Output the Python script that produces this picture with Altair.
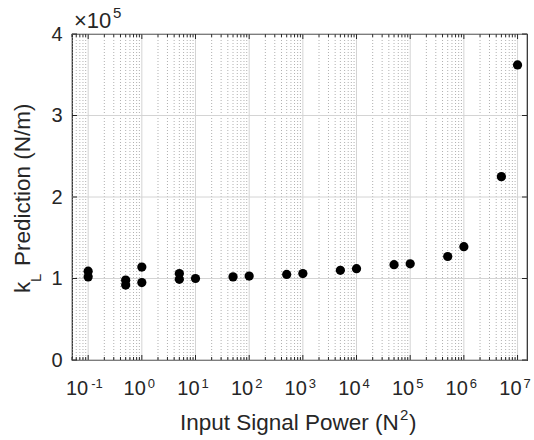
import altair as alt
import pandas as pd

# ---- data (k_L in units of 1e5 N/m) ----
power = [0.1, 0.1, 0.5, 0.5, 1, 1, 5, 5, 10, 50, 100, 500, 1000, 5000,
         1e4, 5e4, 1e5, 5e5, 1e6, 5e6, 1e7]
kL = [1.09, 1.02, 0.98, 0.92, 1.14, 0.95, 1.06, 0.99, 1.00, 1.02, 1.03,
      1.05, 1.06, 1.10, 1.12, 1.17, 1.18, 1.27, 1.39, 2.25, 3.62]

decade_exps = [-1, 0, 1, 2, 3, 4, 5, 6, 7]
y_ticks = [0, 1, 2, 3, 4]
x_domain = [0.05, 1.5e7]

W, H = 455, 326
FONT = "Liberation Sans"
TXT = "#262626"

pts = pd.DataFrame({"p": power, "k": kL})
dec = pd.DataFrame({"v": [10.0 ** e for e in decade_exps],
                    "e": [str(e) for e in decade_exps]})
minor_vals = [m * 10.0 ** k for k in range(-2, 8) for m in range(2, 10)
              if x_domain[0] <= m * 10.0 ** k <= x_domain[1]]
minor = pd.DataFrame({"v": minor_vals})
yt = pd.DataFrame({"y": y_ticks})

xs = alt.Scale(type="log", domain=x_domain, nice=False)
ys = alt.Scale(domain=[0, 4], nice=False)
yaxis = alt.Axis(values=y_ticks, title=None, grid=False, ticks=False,
                 domain=False, labelFont=FONT, labelFontSize=20,
                 labelColor=TXT, labelPadding=10, format="d")

X = alt.X("v:Q", scale=xs, axis=None)
Yt = alt.Y("y:Q", scale=ys, axis=yaxis)

minor_grid = alt.Chart(minor).mark_rule(
    color="#b0b0b0", strokeDash=[1, 2], strokeWidth=1
).encode(x=X, y=alt.value(0), y2=alt.value(H))

major_grid = alt.Chart(dec).mark_rule(color="#d4d4d4", strokeWidth=1).encode(
    x=X, y=alt.value(0), y2=alt.value(H))

ygrid = alt.Chart(yt).mark_rule(color="#d4d4d4", strokeWidth=1).encode(
    y=Yt, x=alt.value(0), x2=alt.value(W))

# inward ticks
bt_major = alt.Chart(dec).mark_rule(color=TXT).encode(x=X, y=alt.value(H), y2=alt.value(H - 5))
tp_major = alt.Chart(dec).mark_rule(color=TXT).encode(x=X, y=alt.value(0), y2=alt.value(5))
bt_minor = alt.Chart(minor).mark_rule(color=TXT).encode(x=X, y=alt.value(H), y2=alt.value(H - 3))
tp_minor = alt.Chart(minor).mark_rule(color=TXT).encode(x=X, y=alt.value(0), y2=alt.value(3))
yl = alt.Chart(yt).mark_rule(color=TXT).encode(y=Yt, x=alt.value(0), x2=alt.value(5))
yr = alt.Chart(yt).mark_rule(color=TXT).encode(y=Yt, x=alt.value(W), x2=alt.value(W - 5))

# x tick labels 10^e
base_pos = alt.Chart(dec).transform_filter("datum.e != '-1'").mark_text(
    text="10", align="right", baseline="alphabetic", dx=4, font=FONT,
    fontSize=20, color=TXT).encode(x=X, y=alt.value(H + 35))
base_neg = alt.Chart(dec).transform_filter("datum.e == '-1'").mark_text(
    text="10", align="right", baseline="alphabetic", dx=0, font=FONT,
    fontSize=20, color=TXT).encode(x=X, y=alt.value(H + 35))
exp_pos = alt.Chart(dec).transform_filter("datum.e != '-1'").mark_text(
    align="left", baseline="alphabetic", dx=6, font=FONT, fontSize=13,
    color=TXT).encode(x=X, y=alt.value(H + 28), text="e:N")
exp_neg = alt.Chart(dec).transform_filter("datum.e == '-1'").mark_text(
    align="left", baseline="alphabetic", dx=3, font=FONT, fontSize=13,
    color=TXT).encode(x=X, y=alt.value(H + 28), text="e:N")

points = alt.Chart(pts).mark_circle(size=85, opacity=1, color="black").encode(
    x=alt.X("p:Q", scale=xs, axis=None),
    y=alt.Y("k:Q", scale=ys, axis=yaxis))

# titles
ann = pd.DataFrame({"a": [0]})
def txt(s, x, y, size, align="left", angle=0):
    kw = dict(text=s, align=align, baseline="alphabetic", font=FONT,
              fontSize=size, color=TXT)
    if angle:
        kw["angle"] = angle
    return alt.Chart(ann).mark_text(**kw).encode(x=alt.value(x), y=alt.value(y))

xt1 = txt("Input Signal Power (N", 108, 396, 22.5)
xt2 = txt("2", 328, 386, 15)
xt3 = txt(")", 337, 396, 22.5)
yk = txt("k", -42, 259, 22.5, angle=270)
yL = txt("L", -31, 248, 15, angle=270)
ypred = txt("Prediction (N/m)", -42, 232, 22.5, angle=270)
mult = txt("×10", 2, -6, 22)
mult_e = txt("5", 41, -16, 15)

chart = alt.layer(
    minor_grid, major_grid, ygrid,
    bt_major, tp_major, bt_minor, tp_minor, yl, yr,
    base_pos, base_neg, exp_pos, exp_neg,
    points, xt1, xt2, xt3, yk, yL, ypred, mult, mult_e
).properties(
    width=W, height=H,
    autosize=alt.AutoSizeParams(type="none"),
    padding={"left": 72, "top": 34, "right": 7, "bottom": 80},
    background="white"
).configure_view(stroke=TXT, strokeWidth=1.2)

chart.save("out.html", embed_options={"renderer": "svg", "actions": False})
